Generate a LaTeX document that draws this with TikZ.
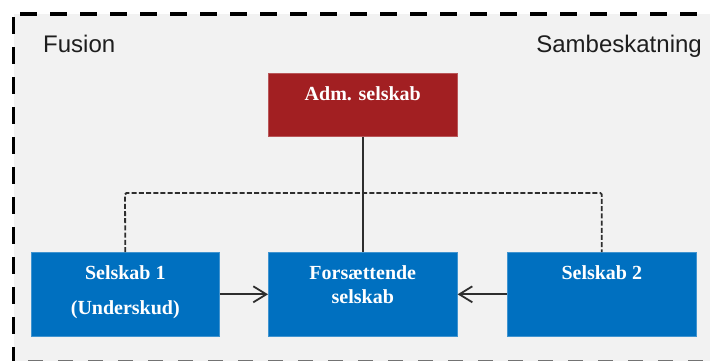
\documentclass[tikz,border=0pt]{standalone}
\usepackage{fontspec}
\setmainfont{Liberation Serif}
\setsansfont{Liberation Sans}
\usetikzlibrary{arrows.meta}
\definecolor{bgray}{HTML}{F2F2F2}
\definecolor{boxblue}{HTML}{0070C0}
\definecolor{boxred}{HTML}{A21F22}
\definecolor{lineg}{HTML}{2E2E2E}
\definecolor{labelg}{HTML}{1E1E1E}
\begin{document}
\begin{tikzpicture}[x=1pt,y=-1pt,
  frame/.style={line width=3.6pt, black},
  bluebox/.style={rectangle, fill=boxblue, draw=boxblue!75!white, line width=0.6pt,
    minimum width=188pt, minimum height=84pt, inner sep=0pt, anchor=north west},
  redbox/.style={rectangle, fill=boxred, draw=boxred!75!white, line width=0.6pt,
    minimum width=189pt, minimum height=63pt, inner sep=0pt, anchor=north west},
  boxtext/.style={text=white, font=\bfseries\fontsize{20}{24}\selectfont, align=center, inner sep=0pt, below=13.3pt},
  cornerlabel/.style={text=labelg, font=\sffamily\fontsize{24}{28}\selectfont, inner sep=0pt},
  solidconn/.style={draw=lineg, line width=1.8pt},
  dashconn/.style={draw=lineg, line width=1.8pt, dash pattern=on 5pt off 2.2pt, rounded corners=1.5pt},
  arrowconn/.style={draw=lineg, line width=1.8pt, -{Straight Barb[length=13pt, width=16pt, line width=1.8pt]}}
]
\useasboundingbox (0,0) rectangle (710,360);
\clip (0,0) rectangle (710,360);

% background panel and dashed frame
\fill[bgray] (13.5,14) rectangle (760,362);
\draw[frame, dash pattern=on 17pt off 13pt] (20,14) -- (760,14);
\draw[frame, dash pattern=on 17pt off 13pt] (13.5,17) -- (13.5,370);
\draw[frame, draw=black!55, dash pattern=on 15pt off 15pt] (28,361.6) -- (760,361.6);

% corner labels
\node[cornerlabel, anchor=base west] (fusion) at (43,52) {Fusion};
\node[cornerlabel, anchor=base east] (samb) at (702,52) {Sambeskatning};

% boxes
\node[redbox] (adm) at (268,73) {};
\node[bluebox] (s1) at (31,252) {};
\node[bluebox, minimum width=189pt] (fs) at (268,252) {};
\node[bluebox, minimum width=189pt] (s2) at (507,252) {};

% box texts
\node[boxtext] (tadm) at (adm.north) {Adm. selskab};
\node[boxtext] (ts1) at (s1.north) {Selskab 1\\[11pt](Underskud)};
\node[boxtext] (tfs) at (fs.north) {Forsættende\\selskab};
\node[boxtext] (ts2) at (s2.north) {Selskab 2};

% connectors
\draw[solidconn] (adm.south) -- (fs.north);
\coordinate (busL) at (125,193);
\draw[dashconn] (s1.north) -- (busL) -| (s2.north);
\draw[arrowconn] (s1.east) -- (fs.west);
\draw[arrowconn] (s2.west) -- (fs.east);
\end{tikzpicture}
\end{document}
